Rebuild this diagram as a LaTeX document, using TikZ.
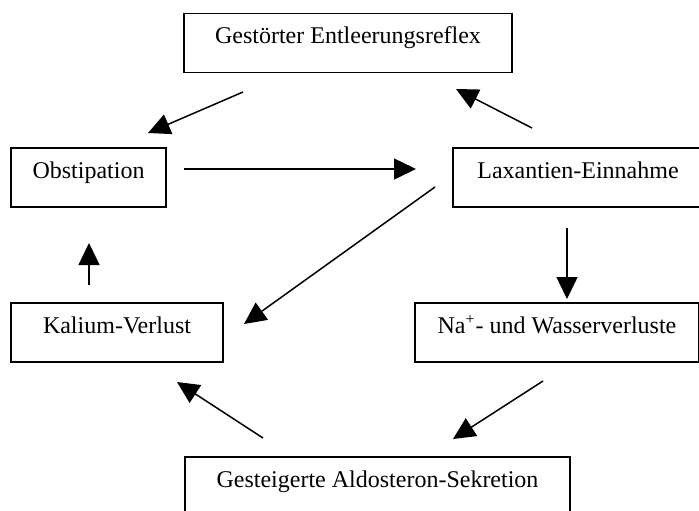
\documentclass[tikz,border=0pt]{standalone}
\usepackage{fontspec}
\setmainfont{Liberation Serif}
\usetikzlibrary{arrows.meta}

\tikzset{
    box/.style={draw, line width=0.75pt, inner sep=0pt, align=center,
        text height=15pt, text depth=14.5pt,
        font=\fontsize{12}{14}\selectfont},
    link/.style={->, line width=0.75pt}
}

\begin{document}
\begin{tikzpicture}[x=0.5pt, y=-0.5pt, >={Triangle[length=11pt,width=10.5pt]}]
        % -- page frame, boxes on the right and below run past it --
        \clip (0,0) rectangle (699,510);

        % -- the six boxes --
        \node[box, minimum width=164pt] (gestoert) at (348,43)  {Gestörter Entleerungsreflex};
        \node[box, minimum width=77.5pt] (obstip)  at (88.5,177.5) {Obstipation};
        \node[box, minimum width=125pt]  (laxan)   at (578,177.5) {Laxantien-Einnahme};
        \node[box, minimum width=106pt]  (kalium)  at (117,332.5) {Kalium-Verlust};
        \node[box, minimum width=142pt]  (natrium) at (557,332.5) {Na\textsuperscript{+}- und Wasserverluste};
        \node[box, minimum width=192.5pt] (aldo)   at (377.5,486.5) {Gesteigerte Aldosteron-Sekretion};

        % -- free arrow ends, the arrows float between the boxes --
        \coordinate (gestoertL) at (243,92);
        \coordinate (obstipT)   at (148,133);
        \coordinate (laxanT)    at (532,128);
        \coordinate (gestoertR) at (456,89);
        \coordinate (obstipR)   at (184,169);
        \coordinate (laxanL)    at (416,169);
        \coordinate (laxanB)    at (435,187);
        \coordinate (kaliumR)   at (244,324);
        \coordinate (laxanS)    at (567,228);
        \coordinate (natriumN)  at (567,299);
        \coordinate (kaliumN)   at (89,285);
        \coordinate (obstipS)   at (89,243);
        \coordinate (natriumS)  at (543,381);
        \coordinate (aldoR)     at (453,439);
        \coordinate (aldoL)     at (263,438);
        \coordinate (kaliumS)   at (177,382);

        % -- the cycle --
        \draw[link] (gestoertL) -- (obstipT);
        \draw[link] (laxanT) -- (gestoertR);
        \draw[link] (obstipR) -- (laxanL);
        \draw[link] (laxanB) -- (kaliumR);
        \draw[link] (laxanS) -- (natriumN);
        \draw[link] (kaliumN) -- (obstipS);
        \draw[link] (natriumS) -- (aldoR);
        \draw[link] (aldoL) -- (kaliumS);
    \end{tikzpicture}
\end{document}
